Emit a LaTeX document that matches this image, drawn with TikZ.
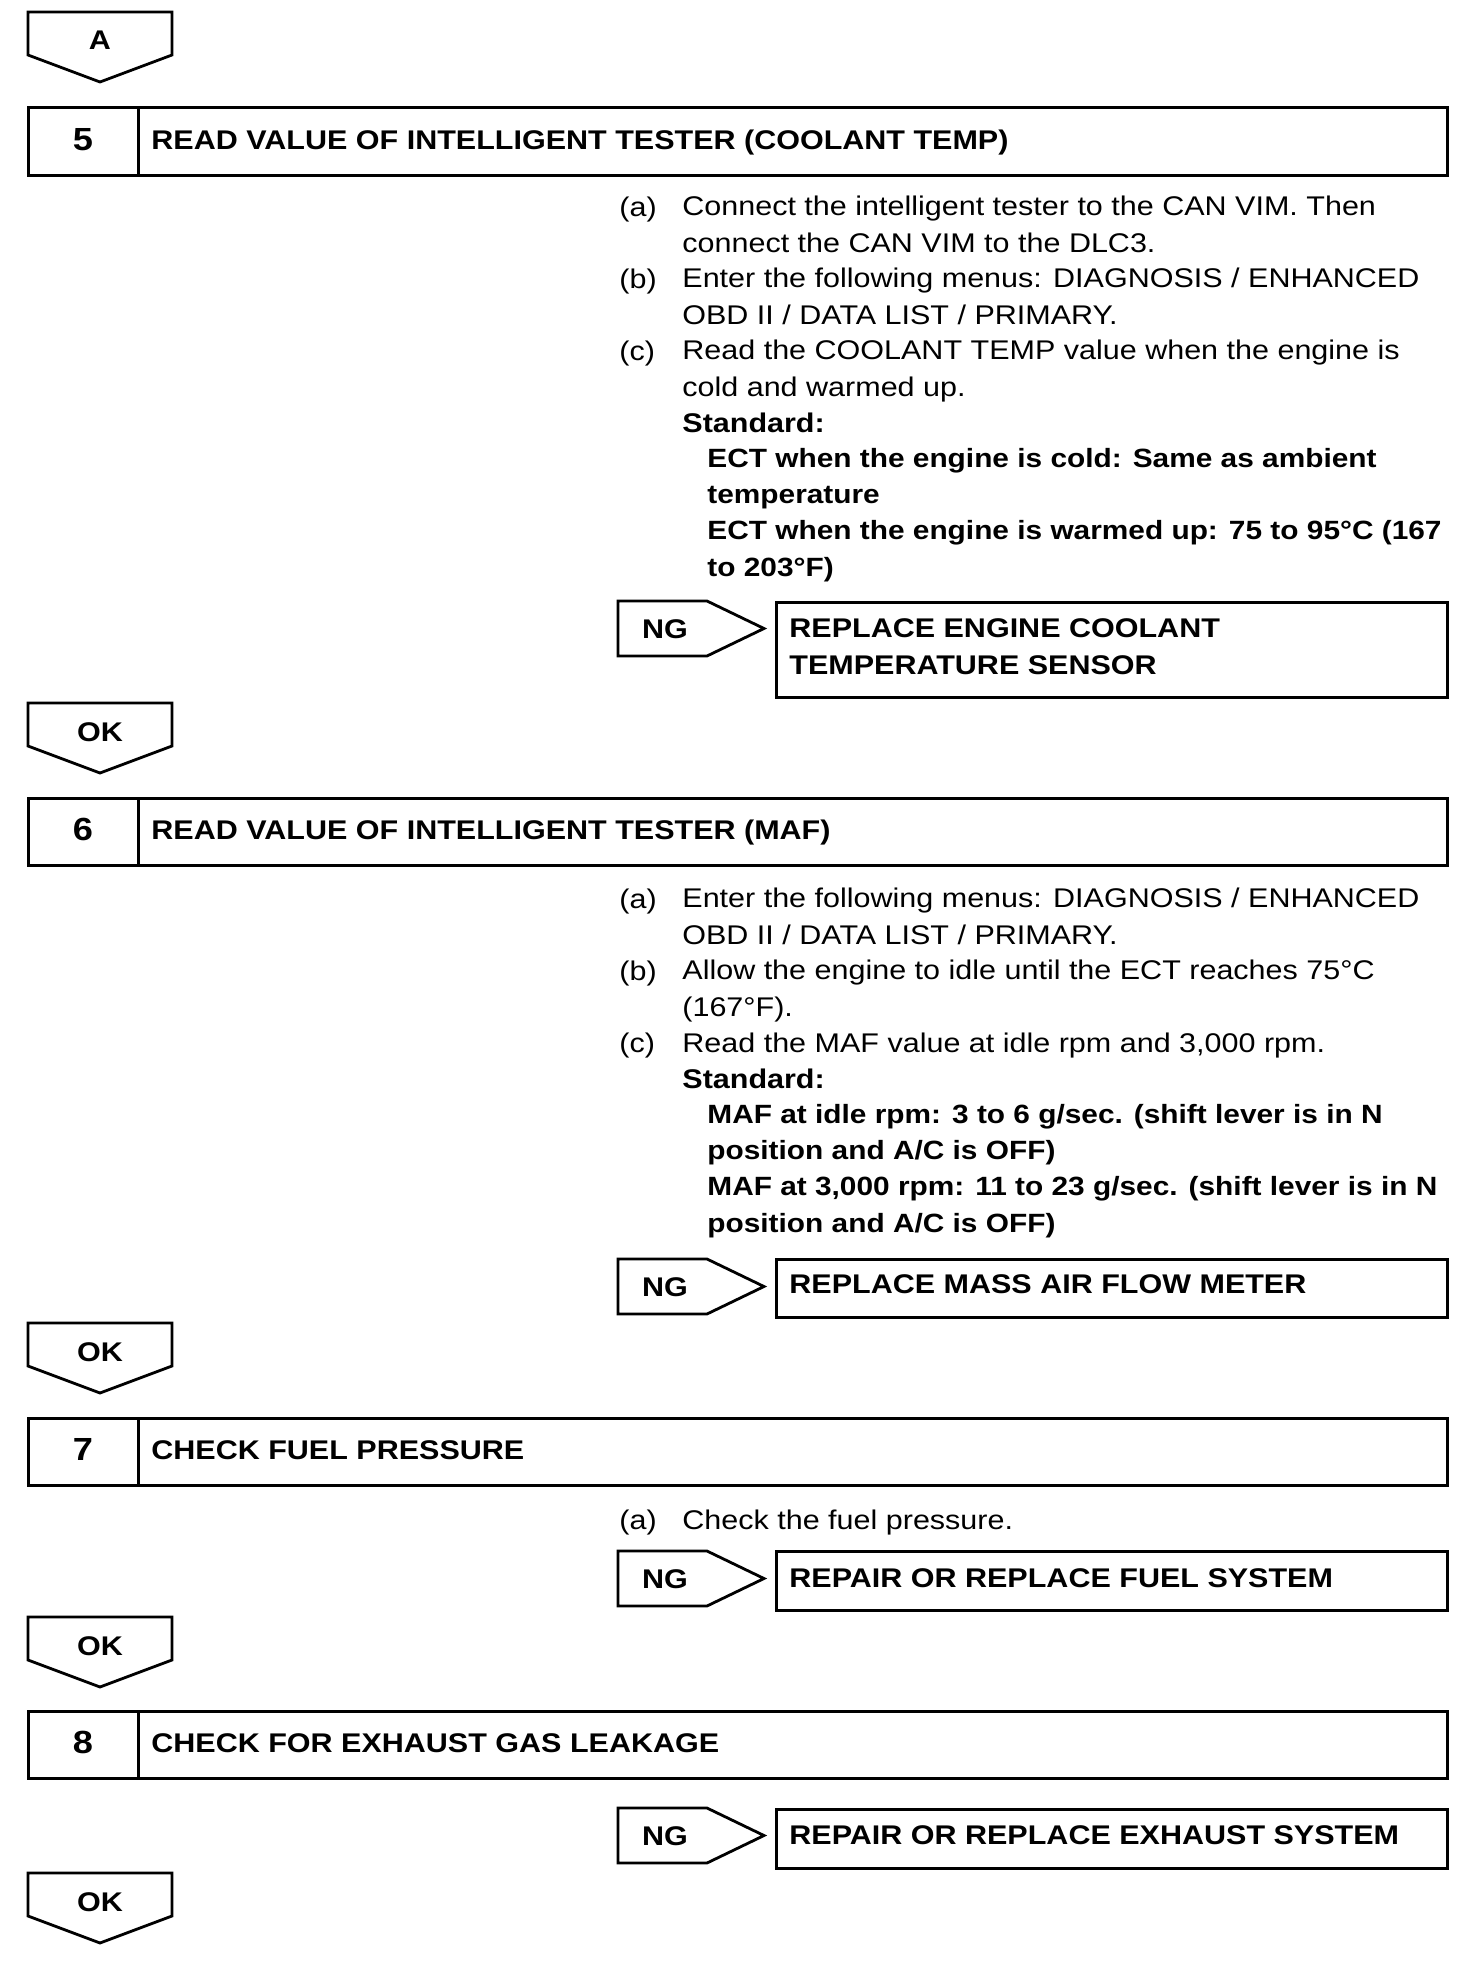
\documentclass[tikz,border=0pt]{standalone}
\usepackage{fontspec}
\setmainfont{Liberation Sans}[FakeStretch=1.13]
\usetikzlibrary{arrows.meta,positioning}
\definecolor{ink}{HTML}{000000}

\begin{document}
\begin{tikzpicture}[x=0.5pt,y=-0.5pt,
  boxline/.style={draw=ink,line width=1.5pt,line join=miter},
  flagline/.style={draw=ink,line width=1.4pt,line join=miter},
  body/.style={inner sep=0pt,align=left,font=\fontsize{13.5}{18.05}\selectfont},
  boldbody/.style={body,font=\fontsize{13.5}{18.05}\selectfont\bfseries},
  spectext/.style={body,font=\fontsize{13.2}{18.05}\selectfont\bfseries},
  numtext/.style={inner sep=0pt,font=\fontsize{16}{18}\selectfont\bfseries}]
\useasboundingbox (0,0) rectangle (1472,1980);
\foreach \n/\t/\s in {a/12/A,ok5/703/OK,ok6/1323/OK,ok7/1617/OK,ok8/1873/OK}{
  \draw[flagline] (28,\t) -- (172,\t) -- (172,\t+43) -- (100,\t+70) -- (28,\t+43) -- cycle;
  \node[boldbody,anchor=base] (\n) at (100,\t+38) {\s};
}
\foreach \k/\t/\s in {5/108/{READ VALUE OF INTELLIGENT TESTER (COOLANT TEMP)},
  6/798/{READ VALUE OF INTELLIGENT TESTER (MAF)},
  7/1418/{CHECK FUEL PRESSURE},8/1711/{CHECK FOR EXHAUST GAS LEAKAGE}}{
  \draw[boxline] (28,\t) rectangle (1447,\t+67);
  \draw[boxline] (138,\t) -- (138,\t+67);
  \node[numtext,anchor=base] (num\k) at (83,\t+42) {\k};
  \node[boldbody,anchor=base west] (step\k) at (151,\t+41) {\s};
}
\foreach \n/\t in {ng5/601,ng6/1259,ng7/1551,ng8/1808}{
  \draw[flagline] (618,\t) -- (707,\t) -- (764,\t+27.5) -- (707,\t+55) -- (618,\t+55) -- cycle;
  \node[boldbody,anchor=base] (\n) at (665,\t+37) {NG};
}
\draw[boxline] (776,602) rectangle (1447,697);
\draw[boxline] (776,1259) rectangle (1447,1317);
\draw[boxline] (776,1551) rectangle (1447,1610);
\draw[boxline] (776,1809) rectangle (1447,1868);
\node[boldbody,anchor=base west] (fix5) at (789,674) {REPLACE ENGINE COOLANT\\TEMPERATURE SENSOR};
\node[boldbody,anchor=base west] (fix6) at (789,1293) {REPLACE MASS AIR FLOW METER};
\node[boldbody,anchor=base west] (fix7) at (789,1587) {REPAIR OR REPLACE FUEL SYSTEM};
\node[boldbody,anchor=base west] (fix8) at (789,1844) {REPAIR OR REPLACE EXHAUST SYSTEM};

\node[body,anchor=base west] (s5a) at (619,216) {(a)};
\node[body,anchor=base west] (s5at) at (682,252) {Connect the intelligent tester to the CAN VIM. Then\\connect the CAN VIM to the DLC3.};
\node[body,anchor=base west] (s5b) at (619,288) {(b)};
\node[body,anchor=base west] (s5bt) at (682,324) {Enter the following menus: DIAGNOSIS / ENHANCED\\OBD II / DATA LIST / PRIMARY.};
\node[body,anchor=base west] (s5c) at (619,360) {(c)};
\node[body,anchor=base west] (s5ct) at (682,396) {Read the COOLANT TEMP value when the engine is\\cold and warmed up.};
\node[boldbody,anchor=base west] (std5) at (682,432) {Standard:};
\node[spectext,anchor=base west] (spec5) at (707,576) {ECT when the engine is cold: Same as ambient\\temperature\\ECT when the engine is warmed up: 75 to 95°C (167\\to 203°F)};

\node[body,anchor=base west] (s6a) at (619,908) {(a)};
\node[body,anchor=base west] (s6at) at (682,944) {Enter the following menus: DIAGNOSIS / ENHANCED\\OBD II / DATA LIST / PRIMARY.};
\node[body,anchor=base west] (s6b) at (619,980) {(b)};
\node[body,anchor=base west] (s6bt) at (682,1016) {Allow the engine to idle until the ECT reaches 75°C\\(167°F).};
\node[body,anchor=base west] (s6c) at (619,1052) {(c)};
\node[body,anchor=base west] (s6ct) at (682,1052) {Read the MAF value at idle rpm and 3,000 rpm.};
\node[boldbody,anchor=base west] (std6) at (682,1088) {Standard:};
\node[spectext,anchor=base west] (spec6) at (707,1232) {MAF at idle rpm: 3 to 6 g/sec. (shift lever is in N\\position and A/C is OFF)\\MAF at 3,000 rpm: 11 to 23 g/sec. (shift lever is in N\\position and A/C is OFF)};

\node[body,anchor=base west] (s7a) at (619,1529) {(a)};
\node[body,anchor=base west] (s7at) at (682,1529) {Check the fuel pressure.};
\end{tikzpicture}
\end{document}
